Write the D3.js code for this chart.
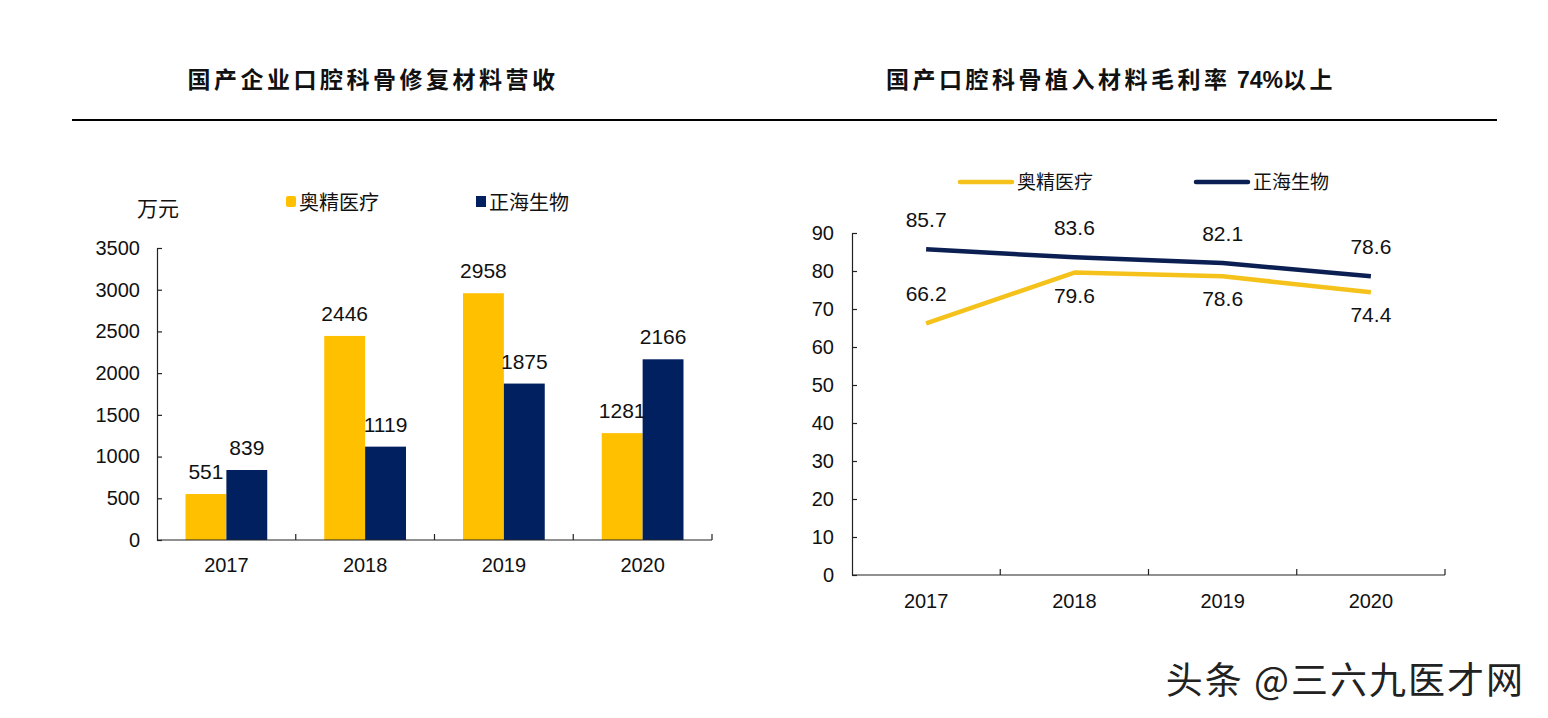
<!DOCTYPE html>
<html>
<head>
<meta charset="utf-8">
<script src="https://cdn.jsdelivr.net/npm/d3@7"></script>
<style>
  body { margin: 0; background: #fff; }
  text { font-family: "Liberation Sans", Arial, sans-serif; fill: #111; }
  .cjk { font-family: "Noto Sans CJK SC", sans-serif; }
  .axis path, .axis line { stroke: #222; stroke-width: 1.2; }
</style>
</head>
<body>
<svg id="chart" width="1548" height="718"></svg>
<script>
// data
var years = ["2017", "2018", "2019", "2020"];
var seriesNames = ["奥精医疗", "正海生物"];
var revenueAojing = [551, 2446, 2958, 1281];
var revenueZhenghai = [839, 1119, 1875, 2166];
var marginAojing = [66.2, 79.6, 78.6, 74.4];
var marginZhenghai = [85.7, 83.6, 82.1, 78.6];
var revenueTicks = [0, 500, 1000, 1500, 2000, 2500, 3000, 3500];
var marginTicks = [0, 10, 20, 30, 40, 50, 60, 70, 80, 90];
var leftTitle = ["国产企业口腔科骨修复材料营收"];
var rightTitle = ["国产口腔科骨植入材料毛利率", " 74%", "以上"];
var unitLabel = "万元";
var watermark = "头条 @三六九医才网";

var colors = ["#FFC000", "#002060"];
var lineColors = ["#F5C21B", "#0C1F52"];

var svg = d3.select("#chart");

/* titles + rule */
function title(parts, cx) {
    var t = svg.append("text").attr("class", "cjk")
        .attr("x", cx).attr("y", 88)
        .attr("text-anchor", "middle")
        .style("font-size", "23px").style("font-weight", 700);
    parts.forEach(function (p) {
        var latin = /\d/.test(p);
        t.append("tspan")
            .style("letter-spacing", latin ? "0px" : "3.5px")
            .style("font-family", latin ? "'Liberation Sans', Arial, sans-serif" : null)
            .style("font-size", latin ? "23px" : null)
            .text(p);
    });
}
title(leftTitle, 373);
title(rightTitle, 1111);

svg.append("line")
    .attr("x1", 72).attr("x2", 1497)
    .attr("y1", 120).attr("y2", 120)
    .attr("stroke", "#000").attr("stroke-width", 2.2);

/* ---- left: grouped bars ---- */
var bx = d3.scaleBand().domain(years).range([157, 712]).padding(0);
var bsub = d3.scaleBand().domain([0, 1])
    .range([28.5, bx.bandwidth() - 28.5]).padding(0);
var by = d3.scaleLinear().domain([0, 3500]).range([540, 248]);

var left = svg.append("g");

left.append("g").attr("class", "axis")
    .attr("transform", "translate(157,0)")
    .call(d3.axisLeft(by).tickValues(revenueTicks).tickFormat(d3.format("d"))
        .tickSizeInner(-5).tickSizeOuter(0).tickPadding(17))
    .call(function (g) {
        g.selectAll("text").style("font-size", "20px").attr("font-family", null);
    });

var barData = years.map(function (y, i) {
    return [revenueAojing[i], revenueZhenghai[i]];
});

var groups = left.append("g").selectAll("g")
    .data(barData).enter().append("g")
    .attr("transform", function (d, i) { return "translate(" + bx(years[i]) + ",0)"; });

groups.selectAll("rect")
    .data(function (d) { return d; })
    .enter().append("rect")
    .attr("x", function (d, j) { return bsub(j); })
    .attr("width", bsub.bandwidth())
    .attr("y", function (d) { return by(d); })
    .attr("height", function (d) { return by(0) - by(d); })
    .attr("fill", function (d, j) { return colors[j]; });

groups.selectAll("text.val")
    .data(function (d) { return d; })
    .enter().append("text")
    .attr("class", "val")
    .attr("x", function (d, j) { return bsub(j) + bsub.bandwidth() / 2; })
    .attr("y", function (d) { return by(d) - 15; })
    .attr("text-anchor", "middle")
    .style("font-size", "21px")
    .text(function (d) { return d; });

var bxAxis = left.append("g").attr("class", "axis")
    .attr("transform", "translate(0,540)");
bxAxis.append("line").attr("x1", 157).attr("x2", 712).attr("y1", 0).attr("y2", 0);
bxAxis.selectAll("line.tk")
    .data(years).enter().append("line")
    .attr("class", "tk")
    .attr("x1", function (d) { return bx(d) + bx.bandwidth(); })
    .attr("x2", function (d) { return bx(d) + bx.bandwidth(); })
    .attr("y1", 0).attr("y2", -6);
bxAxis.selectAll("text")
    .data(years).enter().append("text")
    .attr("x", function (d) { return bx(d) + bx.bandwidth() / 2; })
    .attr("y", 32)
    .attr("text-anchor", "middle")
    .style("font-size", "20px")
    .text(function (d) { return d; });

// legend + unit
left.append("text").attr("class", "cjk")
    .attr("x", 137).attr("y", 216)
    .style("font-size", "21px").text(unitLabel);
var lgX = [286, 476];
seriesNames.forEach(function (name, i) {
    left.append("rect").attr("x", lgX[i]).attr("y", 196)
        .attr("width", 10).attr("height", 11)
        .attr("rx", i === 0 ? 2 : 0)
        .attr("fill", colors[i]);
    left.append("text").attr("class", "cjk")
        .attr("x", lgX[i] + 13).attr("y", 210)
        .style("font-size", "20px").text(name);
});

/* ---- right: lines ---- */
var lx = d3.scaleBand().domain(years).range([852, 1445]).padding(0);
var ly = d3.scaleLinear().domain([0, 90]).range([575, 233]);
var right = svg.append("g");

right.append("g").attr("class", "axis")
    .attr("transform", "translate(852,0)")
    .call(d3.axisLeft(ly).tickValues(marginTicks).tickSizeInner(-5).tickSizeOuter(0).tickPadding(18))
    .call(function (g) {
        g.selectAll("text").style("font-size", "20px").attr("font-family", null);
    });

var lxAxis = right.append("g").attr("class", "axis")
    .attr("transform", "translate(0,575)");
lxAxis.append("line").attr("x1", 852).attr("x2", 1445).attr("y1", 0).attr("y2", 0);
lxAxis.selectAll("line.tk")
    .data(years).enter().append("line")
    .attr("class", "tk")
    .attr("x1", function (d) { return lx(d) + lx.bandwidth(); })
    .attr("x2", function (d) { return lx(d) + lx.bandwidth(); })
    .attr("y1", 0).attr("y2", -6);
lxAxis.selectAll("text")
    .data(years).enter().append("text")
    .attr("x", function (d) { return lx(d) + lx.bandwidth() / 2; })
    .attr("y", 33)
    .attr("text-anchor", "middle")
    .style("font-size", "20px")
    .text(function (d) { return d; });

var line = d3.line()
    .x(function (d, i) { return lx(years[i]) + lx.bandwidth() / 2; })
    .y(function (d) { return ly(d); });

var lineSeries = [marginAojing, marginZhenghai];
// label above (-1) or below (+1) each point
var labelSide = [[-1, 1, 1, 1], [-1, -1, -1, -1]];

lineSeries.forEach(function (vals, s) {
    right.append("path")
        .datum(vals)
        .attr("d", line)
        .attr("fill", "none")
        .attr("stroke", lineColors[s])
        .attr("stroke-width", 4.5)
        .attr("stroke-linejoin", "round");
    right.selectAll("text.lbl" + s)
        .data(vals).enter().append("text")
        .attr("class", "lbl" + s)
        .attr("x", function (d, i) { return lx(years[i]) + lx.bandwidth() / 2; })
        .attr("y", function (d, i) {
            return labelSide[s][i] < 0 ? ly(d) - 22 : ly(d) + 30;
        })
        .attr("text-anchor", "middle")
        .style("font-size", "21px")
        .text(function (d) { return d.toFixed(1); });
});

var rlgX = [960, 1196];
seriesNames.forEach(function (name, i) {
    right.append("line")
        .attr("x1", rlgX[i]).attr("x2", rlgX[i] + 52)
        .attr("y1", 182).attr("y2", 182)
        .attr("stroke", lineColors[i]).attr("stroke-width", 4.5)
        .attr("stroke-linecap", "round");
    right.append("text").attr("class", "cjk")
        .attr("x", rlgX[i] + 57).attr("y", 189)
        .style("font-size", "19px").text(name);
});

/* watermark */
svg.append("text").attr("class", "cjk")
    .attr("x", 1525).attr("y", 694)
    .attr("text-anchor", "end")
    .style("font-size", "37px")
    .style("letter-spacing", "2px")
    .style("fill", "#222")
    .text(watermark);
</script>
</body>
</html>
